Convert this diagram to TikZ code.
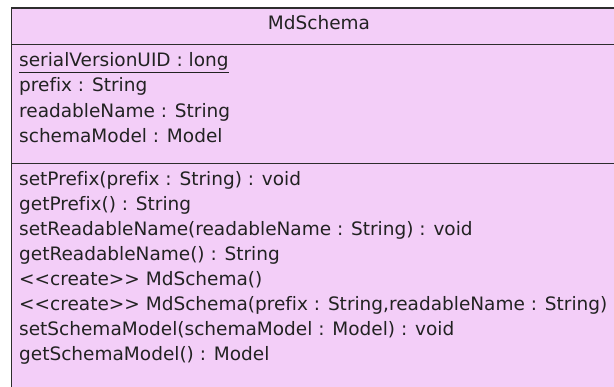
\documentclass[tikz,border=0pt]{standalone}
\usepackage{fontspec}
\setmainfont{DejaVu Sans}[Ligatures={TeXOff,CommonOff}]
\usepackage{tikz}
\usetikzlibrary{positioning}
\definecolor{umlpink}{RGB}{243,206,248}
\definecolor{umlline}{RGB}{45,45,45}
\definecolor{umltext}{RGB}{34,34,34}

\begin{document}
\begin{tikzpicture}[
  x=1pt, y=-1pt,
  font=\fontsize{18.5}{24.7}\selectfont,
  compartment/.style={draw=umlline, fill=umlpink, line width=1.5pt,
                      rectangle, inner sep=0pt, anchor=north west},
  member/.style={anchor=base west, inner sep=0pt, text=umltext},
  classname/.style={anchor=base, inner sep=0pt, text=umltext}
]
\useasboundingbox (0,0) rectangle (614,387);
\clip (0,0) rectangle (614,387);

% compartments
\node[compartment, minimum width=617.5pt, minimum height=36.5pt]  (head)  at (10.5,7.5) {};
\node[compartment, minimum width=617.5pt, minimum height=119pt]   (attrs) at (10.5,44)  {};
\node[compartment, minimum width=617.5pt, minimum height=320pt]   (ops)   at (10.5,163) {};

\node[classname] (name) at (319,30) {MdSchema};

% attributes
\node[member] (attr1) at (19,66.5) {\underline{serialVersionUID : long}};
\foreach \txt [count=\i from 2] in {{prefix : String},
                                    {readableName : String},
                                    {schemaModel : Model}}
  \node[member] (attr\i) at (19,66.5+25.5*\i-25.5) {\txt};

% operations
\foreach \txt [count=\i] in {{setPrefix(prefix : String) : void},
                             {getPrefix() : String},
                             {setReadableName(readableName : String) : void},
                             {getReadableName() : String},
                             {<<create>> MdSchema()},
                             {<<create>> MdSchema(prefix : String,readableName : String)},
                             {setSchemaModel(schemaModel : Model) : void},
                             {getSchemaModel() : Model}}
  \node[member] (op\i) at (19,185.5+25*\i-25) {\txt};
\end{tikzpicture}
\end{document}
